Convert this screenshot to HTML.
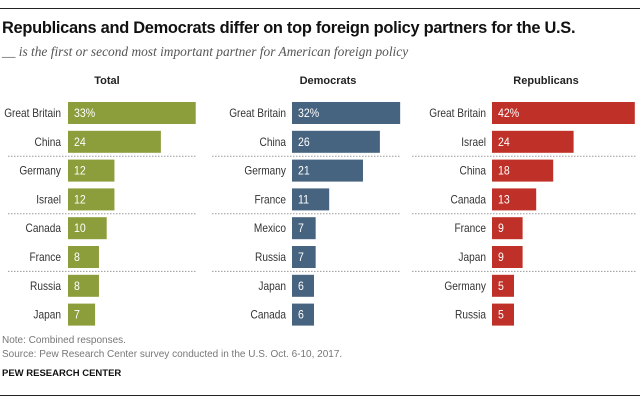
<!DOCTYPE html>
<html><head><meta charset="utf-8"><style>
body{margin:0;width:640px;height:404px;background:#fff;font-family:"Liberation Sans",sans-serif;position:relative;overflow:hidden}
.abs{position:absolute}
</style></head><body>
<div class="abs" style="left:0;top:8px;width:640px;height:1px;background:#222"></div>
<div class="abs" style="left:2px;top:18px;font-size:17px;font-weight:bold;color:#111;letter-spacing:-0.3px;transform:scaleX(0.965);transform-origin:left">Republicans and Democrats differ on top foreign policy partners for the U.S.</div>
<div class="abs" style="left:2px;top:44px;font-family:'Liberation Serif',serif;font-style:italic;font-size:13.4px;color:#555">__ is the first or second most important partner for American foreign policy</div>
<svg class="abs" style="left:0;top:0" width="640" height="404" id="chart"></svg>
<div class="abs" style="left:2px;top:335px;font-size:10px;color:#777">Note: Combined responses.</div>
<div class="abs" style="left:2px;top:349px;font-size:10px;color:#777">Source: Pew Research Center survey conducted in the U.S. Oct. 6-10, 2017.</div>
<div class="abs" style="left:2px;top:368px;font-size:9.5px;font-weight:bold;color:#111">PEW RESEARCH CENTER</div>
<div class="abs" style="left:0;top:395px;width:640px;height:1px;background:#222"></div>
<script>
const totalCats=["Great Britain","China","Germany","Israel","Canada","France","Russia","Japan"];
const totalVals=[33,24,12,12,10,8,8,7];
const demCats=["Great Britain","China","Germany","France","Mexico","Russia","Japan","Canada"];
const demVals=[32,26,21,11,7,7,6,6];
const repCats=["Great Britain","Israel","China","Canada","France","Japan","Germany","Russia"];
const repVals=[42,24,18,13,9,9,5,5];
const panels=[
 {title:"Total",cats:totalCats,vals:totalVals,x0:68,scale:3.87,color:"#8c9d3b",labR:61,sepL:8,sepR:196,hx:107,name:"total"},
 {title:"Democrats",cats:demCats,vals:demVals,x0:292,scale:3.38,color:"#46637f",labR:286,sepL:212,sepR:401,hx:328,name:"democrats"},
 {title:"Republicans",cats:repCats,vals:repVals,x0:492,scale:3.4,color:"#bf3128",labR:486,sepL:412,sepR:636,hx:546,name:"republicans"}];
const svg=document.getElementById('chart');
const NS="http://www.w3.org/2000/svg";
const SX=0.88;
const rowY=i=>113+i*28.8;
function mk(t,a){const e=document.createElementNS(NS,t);for(const k in a)e.setAttribute(k,a[k]);svg.appendChild(e);return e;}
panels.forEach(p=>{
 const h=mk('text',{x:p.hx,y:84,'text-anchor':'middle','font-size':11,'font-weight':'bold',fill:'#222'});
 h.textContent=p.title;
 
 
 [1.5,3.5,5.5].forEach(k=>{
  const l=mk('line',{x1:p.sepL,x2:p.sepR,y1:rowY(k),y2:rowY(k),stroke:'#999','stroke-dasharray':'1.5,1.5','stroke-width':1});
  
  
 });
 p.cats.forEach((c,i)=>{
  const y=rowY(i),v=p.vals[i],w=Math.max(v*p.scale,22);
  const lab=mk('text',{x:p.labR/SX,y:y+4,'text-anchor':'end','font-size':11.5,fill:'#333',transform:'scale('+SX+',1)'});
  lab.textContent=c;
  
  
  const r=mk('rect',{x:p.x0,y:y-11,width:w,height:22,fill:p.color});
  
  
  const t=mk('text',{x:(p.x0+6)/SX,y:y+4,'font-size':12,fill:'#fff',transform:'scale('+SX+',1)'});
  t.textContent=i===0?v+'%':v;
  
  
 });
});
</script>
</body></html>
